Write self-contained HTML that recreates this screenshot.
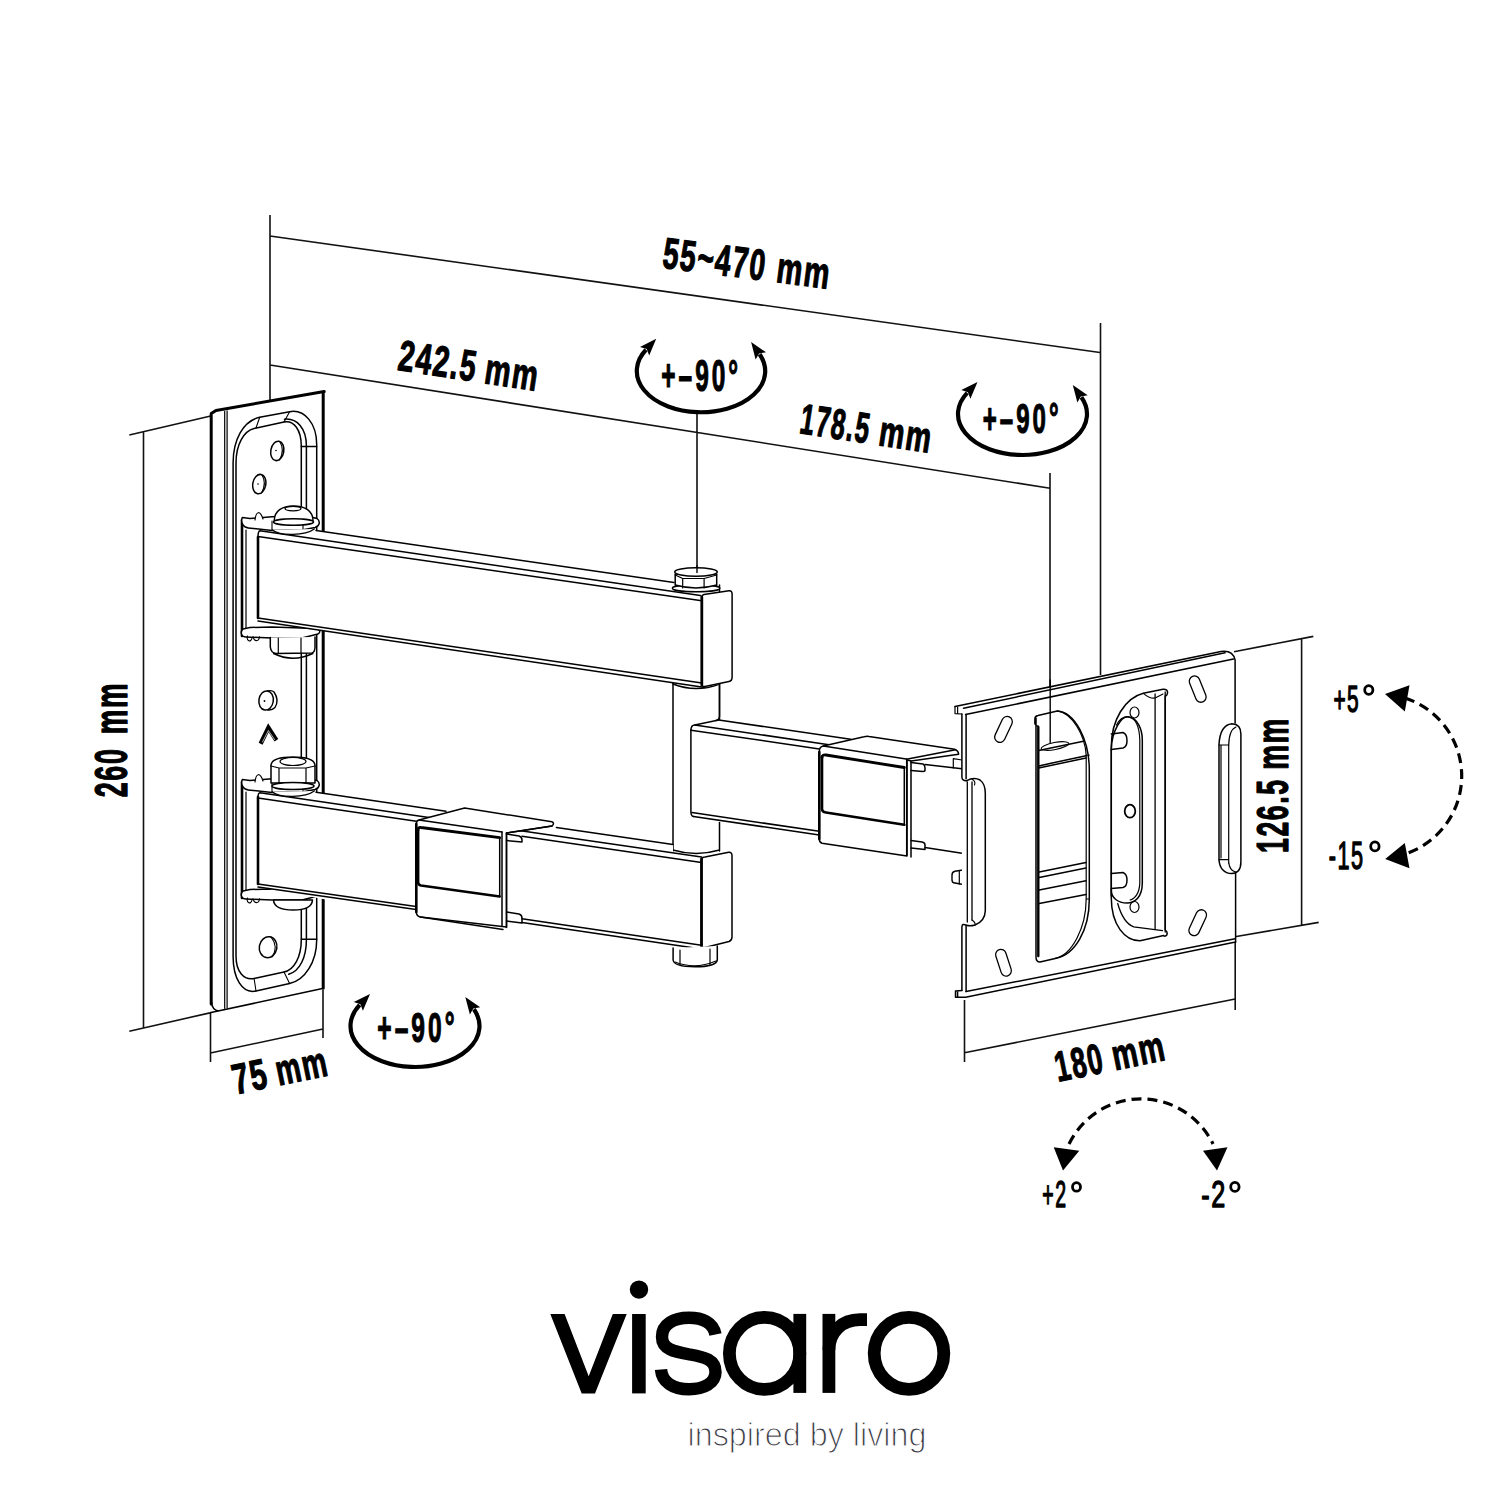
<!DOCTYPE html>
<html><head><meta charset="utf-8"><style>
html,body{margin:0;padding:0;background:#fff;}
svg{display:block;}
text{font-family:"Liberation Sans",sans-serif;}
</style></head><body>
<svg width="1500" height="1500" viewBox="0 0 1500 1500">
<rect width="1500" height="1500" fill="#fff"/>
<path d="M270,215 V402 M270,236 L1100,352.5 M270,365 L1050,488.25 M1100.5,323 V675 M1050,473 V741 M697,413 V572 M143.5,431.7 V1027.3 M129.3,435 L210.7,416 M129.3,1031.3 L211,1012.6 M210.5,1012 V1062 M323,990 V1038 M210.4,1053 L323,1029 M964.5,1000 V1062 M1235.2,939 V1010 M964.5,1052.7 L1235.2,999 M1301.6,638.7 V924.5 M1234,651.7 L1313.3,636.4 M1234.9,936.8 L1318.7,922.4" fill="none" stroke="#111" stroke-width="1.6"/>
<g fill="#000">
<text transform="translate(661.00,268.00) rotate(7.336) scale(0.6458,1) translate(0.60,-0.60)" font-size="43.57" font-weight="bold" stroke="#000" stroke-width="1.2" stroke-linejoin="round"  letter-spacing="2.478">55~470</text>
<text transform="translate(774.73,282.64) rotate(7.336) scale(0.6611,1) translate(0.60,-0.60)" font-size="43.57" font-weight="bold" stroke="#000" stroke-width="1.2" stroke-linejoin="round"  letter-spacing="2.420">mm</text>
<text transform="translate(396.20,370.40) rotate(8.543) scale(0.6607,1) translate(0.60,-0.60)" font-size="43.29" font-weight="bold" stroke="#000" stroke-width="1.2" stroke-linejoin="round"  letter-spacing="2.422">242.5</text>
<text transform="translate(482.88,383.42) rotate(8.543) scale(0.6656,1) translate(0.60,-0.60)" font-size="43.29" font-weight="bold" stroke="#000" stroke-width="1.2" stroke-linejoin="round"  letter-spacing="2.404">mm</text>
<text transform="translate(798.00,433.50) rotate(8.661) scale(0.5894,1) translate(0.60,-0.60)" font-size="42.86" font-weight="bold" stroke="#000" stroke-width="1.2" stroke-linejoin="round"  letter-spacing="2.715">178.5</text>
<text transform="translate(877.04,445.54) rotate(8.661) scale(0.6609,1) translate(0.60,-0.60)" font-size="42.86" font-weight="bold" stroke="#000" stroke-width="1.2" stroke-linejoin="round"  letter-spacing="2.421">mm</text>
<text transform="translate(235.20,1095.10) rotate(-11.671) scale(0.6909,1) translate(0.60,-0.60)" font-size="42.57" font-weight="bold" stroke="#000" stroke-width="1.2" stroke-linejoin="round"  letter-spacing="2.316">75</text>
<text transform="translate(278.53,1086.15) rotate(-11.671) scale(0.6560,1) translate(0.60,-0.60)" font-size="42.57" font-weight="bold" stroke="#000" stroke-width="1.2" stroke-linejoin="round"  letter-spacing="2.439">mm</text>
<text transform="translate(1057.80,1082.40) rotate(-11.451) scale(0.6274,1) translate(0.60,-0.60)" font-size="42.57" font-weight="bold" stroke="#000" stroke-width="1.2" stroke-linejoin="round"  letter-spacing="2.550">180</text>
<text transform="translate(1114.75,1070.86) rotate(-11.451) scale(0.6700,1) translate(0.60,-0.60)" font-size="42.57" font-weight="bold" stroke="#000" stroke-width="1.2" stroke-linejoin="round"  letter-spacing="2.388">mm</text>
<text transform="translate(128.00,797.60) rotate(-90.000) scale(0.5914,1) translate(0.60,-0.60)" font-size="45.57" font-weight="bold" stroke="#000" stroke-width="1.2" stroke-linejoin="round"  letter-spacing="2.705">260</text>
<text transform="translate(128.00,734.68) rotate(-90.000) scale(0.6071,1) translate(0.60,-0.60)" font-size="45.57" font-weight="bold" stroke="#000" stroke-width="1.2" stroke-linejoin="round"  letter-spacing="2.636">mm</text>
<text transform="translate(1288.10,853.30) rotate(-90.000) scale(0.6105,1) translate(0.60,-0.60)" font-size="43.57" font-weight="bold" stroke="#000" stroke-width="1.2" stroke-linejoin="round"  letter-spacing="2.621">126.5</text>
<text transform="translate(1288.10,770.23) rotate(-90.000) scale(0.6419,1) translate(0.60,-0.60)" font-size="43.57" font-weight="bold" stroke="#000" stroke-width="1.2" stroke-linejoin="round"  letter-spacing="2.493">mm</text>
</g>
<path d="M646.0,349.8 A64.2,41.2 0 1 0 759.6,354.2" fill="none" stroke="#000" stroke-width="4.2"/>
<path d="M656.2,338.8 L649.2,355.5 L646.7,349.1 L640.0,346.9 Z" fill="#000"/>
<path d="M751.1,341.9 L766.0,352.3 L759.1,353.4 L755.6,359.5 Z" fill="#000"/>
<text transform="translate(661.00,391.20) rotate(0.000) scale(0.5600,1) translate(0.60,-0.60)" font-size="43.57" font-weight="bold" stroke="#000" stroke-width="1.2" stroke-linejoin="round"  letter-spacing="5.357">+–90°</text>
<path d="M967.2,392.9 A64.5,41 0 1 0 1081.4,397.3" fill="none" stroke="#000" stroke-width="4.2"/>
<path d="M977.5,382.0 L970.4,398.7 L967.9,392.2 L961.3,390.0 Z" fill="#000"/>
<path d="M1072.8,385.0 L1087.7,395.3 L1080.8,396.5 L1077.4,402.6 Z" fill="#000"/>
<text transform="translate(982.50,434.00) rotate(0.000) scale(0.5550,1) translate(0.60,-0.60)" font-size="43.29" font-weight="bold" stroke="#000" stroke-width="1.2" stroke-linejoin="round"  letter-spacing="5.406">+–90°</text>
<path d="M359.7,1004.9 A64.5,41 0 1 0 473.9,1009.3" fill="none" stroke="#000" stroke-width="4.2"/>
<path d="M370.0,994.0 L362.9,1010.7 L360.4,1004.2 L353.8,1002.0 Z" fill="#000"/>
<path d="M465.3,997.0 L480.2,1007.3 L473.3,1008.5 L469.9,1014.6 Z" fill="#000"/>
<text transform="translate(377.00,1043.00) rotate(0.000) scale(0.5681,1) translate(0.60,-0.60)" font-size="43.29" font-weight="bold" stroke="#000" stroke-width="1.2" stroke-linejoin="round"  letter-spacing="5.281">+–90°</text>
<g fill="none" stroke="#000" stroke-width="3.2" stroke-dasharray="10,6">
<path d="M1405,698 A82,82 0 0 1 1405,854"/>
<path d="M1069,1144 A80,80 0 0 1 1213,1144"/>
</g>
<g fill="#000">
<path d="M1385,694 L1409.5,685.3 L1404.8,711.5 Z"/>
<path d="M1385.2,859 L1404.8,843 L1409.5,868.3 Z"/>
<path d="M1063,1170.5 L1053.7,1147.2 L1079.3,1150.7 Z"/>
<path d="M1217,1170.5 L1203,1150.7 L1227.5,1147.2 Z"/>
<text transform="translate(1333.00,712.40) rotate(0.000) scale(0.5713,1) translate(0.70,-0.70)" font-size="36.57" font-weight="normal" stroke="#000" stroke-width="1.4" stroke-linejoin="round"  letter-spacing="2.625">+5</text>
<text transform="translate(1328.30,869.20) rotate(0.000) scale(0.5702,1) translate(0.70,-0.70)" font-size="38.00" font-weight="normal" stroke="#000" stroke-width="1.4" stroke-linejoin="round"  letter-spacing="2.630">-15</text>
<text transform="translate(1042.00,1207.80) rotate(0.000) scale(0.5330,1) translate(0.70,-0.70)" font-size="36.57" font-weight="normal" stroke="#000" stroke-width="1.4" stroke-linejoin="round"  letter-spacing="2.814">+2</text>
<text transform="translate(1200.80,1207.80) rotate(0.000) scale(0.6888,1) translate(0.70,-0.70)" font-size="36.57" font-weight="normal" stroke="#000" stroke-width="1.4" stroke-linejoin="round"  letter-spacing="2.178">-2</text>
<g fill="none" stroke="#000" stroke-width="2.8">
<ellipse cx="1368.8" cy="690" rx="4.1" ry="4.4"/>
<ellipse cx="1374.9" cy="846.4" rx="4.2" ry="4.5"/>
<ellipse cx="1076.5" cy="1186.9" rx="4.0" ry="4.3"/>
<ellipse cx="1234.9" cy="1186.9" rx="4.2" ry="4.5"/>
</g>
</g>
<g fill="#000">
<path d="M550.3,1314 L564.6,1314 L588.7,1376.3 L612.8,1314 L626.7,1314 L595,1393.4 L581.7,1393.4 Z"/>
<rect x="632.1" y="1314" width="13.6" height="79.4"/>
<circle cx="639" cy="1289.6" r="9.2"/>
<rect x="793.4" y="1313.9" width="12.8" height="79"/>
<rect x="822.5" y="1313.9" width="12.8" height="79"/>
</g>
<g fill="none" stroke="#000" stroke-width="12.8">
<ellipse cx="764.6" cy="1353.4" rx="35.2" ry="36"/>
<ellipse cx="909" cy="1353.3" rx="34.8" ry="36"/>
<path d="M828.9,1350 C828.9,1332 842,1319.7 860,1319.7 L867,1319.7"/>
<path d="M715.5,1334.5 C713,1322 702,1317.8 689,1317.8 C674,1317.8 662,1324 662,1337 C662,1350 676,1352 690,1354.5 C705,1357 715.5,1360 715.5,1372 C715.5,1383 704,1389.3 689,1389.3 C673,1389.3 662,1382 661,1369.4" stroke-width="12.4"/>
</g>
<text x="687.5" y="1446.3" font-size="33" fill="#3a3a44" stroke="#fff" stroke-width="1.1" textLength="239" lengthAdjust="spacingAndGlyphs">inspired by living</text>

<g fill="none" stroke="#000" stroke-width="1.5" stroke-linejoin="round" stroke-linecap="round">
<!-- ===== WALL PLATE ===== -->
<path d="M211.2,413.6 L324,391.7 L324,988.5 L211,1012.6 Z" fill="#fff" stroke="none"/>
<path d="M211.2,1004 V413.6 L216,410.5 L324.2,391.5 M323.2,391.7 V988.3" stroke-width="3"/>
<path d="M211.5,1002 Q212,1010 218.7,1010.9 M211,1012.6 L322.5,988.5"/>
<path d="M224.7,411.3 V1008.3 M227.1,410.8 V1007.8" stroke-width="1.2"/>
<!-- recess outer -->
<path d="M233.1,956.5 V463 C233.1,440 243,421 259.7,417.3 L289.6,411.7 C305,409 316.7,424 316.7,444.4 V939.7 C316.7,962 305,980 289.6,983.6 L256,991 C242,994 233.1,978 233.1,956.5 Z"/>
<!-- recess inner -->
<path d="M236,956 V463 C236,444 244,431 254.1,428.5 L284,422 C294,420 301.3,430 301.3,446.3 V939.7 C301.3,957 294,970 284,972 L254.1,978.5 C244,980.5 236,972 236,956 Z"/>
<path d="M284.5,419.2 C297,418 306.4,428 306.4,446 V939.7 C306.4,957 300,971 288.7,974.3"/>
<path d="M301.3,446.5 H316.7 M301.3,939.3 H316.7"/>
<path d="M259.7,417.3 L256,428 M289.6,411.7 L284,422 M256,991 L254.1,978.5 M289.6,983.6 L284,972" stroke-width="1.1"/>
<!-- holes -->
<ellipse cx="277.3" cy="450.9" rx="6.5" ry="9.8" transform="rotate(10 277.3 450.9)"/>
<path d="M280,442 Q285,450 279.5,460" stroke-width="1.1"/>
<ellipse cx="259.3" cy="484.1" rx="6.5" ry="9.8" transform="rotate(10 259.3 484.1)"/>
<path d="M262,475 Q267,483 261.5,493" stroke-width="1.1"/>
<circle cx="276" cy="450.5" r="0.8" fill="#000" stroke="none"/>
<circle cx="258" cy="484" r="0.8" fill="#000" stroke="none"/>
<ellipse cx="266.1" cy="700.5" rx="7.2" ry="9.6" transform="rotate(8 266.1 700.5)"/>
<path d="M267.5,691 Q272,690 274,692 Q279.5,700 275,707.5 Q272,710.5 268,710" stroke-width="1.4"/>
<circle cx="264.5" cy="701" r="0.9" fill="#000" stroke="none"/>
<ellipse cx="268.1" cy="947.2" rx="8.8" ry="10.5" transform="rotate(10 268.1 947.2)"/>
<path d="M271,937 Q279,947 272,957" stroke-width="1.1"/>
<path d="M260.6,743.8 L268.4,727.8 L276.4,740.2" stroke-width="4.4" stroke-linejoin="miter" stroke-linecap="butt"/>
<path d="M262.5,742 L268.4,730.5 L274.5,739.5" stroke="#fff" stroke-width="0.7" stroke-linejoin="miter"/>
</g>
<g fill="none" stroke="#000" stroke-width="1.5" stroke-linejoin="round" stroke-linecap="round">
<!-- ===== PIVOT POST ===== -->
<path d="M673,585 H719.5 V851 Q696,858 673,851 Z" fill="#fff" stroke="none"/>
<path d="M673,585 V851 M719.5,585 V851 M673,850 Q696,857 719.5,850"/>
<path d="M673,684 Q696,693 719.5,684"/>

<!-- ===== UPPER BRACKET (back parts) ===== -->
<path d="M242,520 V636" stroke-width="2.6"/>
<path d="M246,530 V628" stroke-width="1.2"/>
<!-- bottom flange + nut -->
<path d="M243,629 C240,632 241,637 246,637 L272,638 L302,638 L318,634 C321,632 320,629 316,628.5 L272,627 L250,627.5 Z" fill="#fff"/>
<path d="M247.5,636 C246,641 251,643 252,638 M253,636.5 C254,642 259,642 259.5,636.8" stroke-width="1.1"/>
<path d="M270.3,637.5 V647 Q271,653 276,653.5 L312,653 Q315,652 315,647 V637" fill="#fff"/>
<path d="M278.3,638 V653 M301,638 V653" stroke-width="1.2"/>
<path d="M273.7,653.5 Q293,663 312.7,653.5" stroke-width="1.6"/>

<!-- ===== LOWER BRACKET (back parts) ===== -->
<path d="M242,782 V898" stroke-width="2.6"/>
<path d="M246,792 V890" stroke-width="1.2"/>
<path d="M243,891 C240,894 241,899 246,899 L272,900 L302,900 L318,896 C321,894 320,891 316,890.5 L272,889 L250,889.5 Z" fill="#fff"/>
<path d="M247.5,898 C246,903 251,905 252,900 M253,898.5 C254,904 259,904 259.5,898.8" stroke-width="1.1"/>
<path d="M273.5,900 C274,908 283,910 293.3,910 C304,910 312,908 312.5,900 Z" fill="#fff"/>

<!-- ===== MIDDLE ARM ===== -->
<path d="M690.9,729 Q691,725.2 694.7,725 L718.7,720 L850.7,739.3 L868,736 L953.3,750 L962,752 L967,856 L907,856 L822,843.3 L693.5,816.5 Q690.9,816 690.9,812 Z" fill="#fff" stroke="none"/>
<path d="M690.9,730 V812 Q691,816 693.5,816.5"/>
<path d="M690.9,730.2 Q691,725.2 694.7,725 L718.7,720"/>
<path d="M718.7,720 L850.7,739.3 M694.7,725 L829,744.7 M690.9,730.2 L819.3,748.9 M692,812.6 L819.3,831.3 M693.5,816.5 L819.3,835"/>
<path d="M719.5,684 V716 Q719.5,720 716,720.5" />
<!-- sleeve -->
<path d="M819.3,752 Q819.3,746.5 823.3,746 L864,736.8 Q867,736 869,736.5 L954.6,749.2 Q958.5,750.5 958.6,754.3 L911.3,760.9 L907,760 V856 L822,843.3 Q819.3,842.5 819.3,839 Z" fill="#fff"/>
<path d="M819.3,752 V839" stroke-width="2.6"/>
<path d="M823.3,746 L904.5,758.8 Q907.7,759.3 909,758.8 L955.5,749.8"/>
<path d="M822,757.5 Q822,754.5 826,755 L904.3,767.5" stroke-width="2.8"/>
<path d="M822,757 V809 Q822,812 826,812.5 L904.3,824.7" stroke-width="2.6"/>
<path d="M904.3,767.5 V824.7"/>
<path d="M906.7,759 V855 M911,761 V857"/>
<path d="M911,762.5 L923,764 Q925,765 925,768 V770 Q925,771.5 923,771.5 L911,770.5"/>
<path d="M911,840.5 L922,842 Q925,842.5 925,845 V849.5 L911,848"/>
<path d="M925,764.5 L962,768.7 M925,847.5 L962,853.3"/>
<path d="M953.3,758.7 L962,760 M953.3,758.7 V768" stroke-width="1.2"/>
<path d="M966,869.5 L955,871.3 Q952,872 952,875 V880 Q952,883 955,883 L966,885" stroke-width="1.4" fill="#fff"/><path d="M959.3,870.5 V884" stroke-width="1.2"/>

<!-- ===== LOWER ARM ===== -->
<path d="M258,797 Q258,793 260,792.8 L316,792 L446,811.2 L464.6,808.1 L551.9,821.7 L556.4,827 L673,844.4 L673,853.5 L701.5,857 L732,852.5 V940 L703,949.2 L522,922.6 L506.5,927 L503,929.4 L420.4,917 L258,887 Z" fill="#fff" stroke="none"/>
<path d="M258,797 V884" stroke-width="2.6"/>
<path d="M258,797.5 Q258,793 260,792.8 L430.6,817.8 M316,792.3 L446,811.2 M258,798 L416.3,821.2 M258,884 L416,906.5 M258,887 L416,909.5"/>
<!-- sleeve -->
<path d="M416.3,824 Q416.3,820.5 419,820 L464.6,808.1 L551.9,821.7 Q555,823 552,826 L506.5,833 L506.5,927 L420.4,917 Q416.3,916 416.3,912 Z" fill="#fff"/>
<path d="M416.3,824 V912" stroke-width="2.6"/>
<path d="M419,820 L502,832 M506.5,833 L552,826"/>
<path d="M418.1,830 Q418.1,827 421,827.5 L499.7,837.6" stroke-width="2.8"/>
<path d="M418.1,830 V882 Q418.1,885 421,885.5 L499.7,896.5" stroke-width="2.6"/>
<path d="M499.7,837.6 V896.5"/>
<path d="M502,832 V926 M506.5,833 V927.5 M420.4,917 L503,929.4"/>
<path d="M506.5,834 L519,836 Q522,837 522,840 V842 L506.5,840.5"/>
<path d="M506.5,912 L519,914 Q522,915 522,918 V923 L506.5,921"/>
<path d="M520.7,830.8 L701.5,857 M522,836.3 L701.5,862.6 M556.4,827.4 L673,844.4 M522,918.8 L701.5,945.2 M522,922.6 L703,949.2"/>
<!-- end cap lower -->
<path d="M701.5,860 Q701.5,857 704.9,856.9 L728.7,852.3 Q732,852 732,855.5 V937 Q732,940.5 729,941.5 L705,947.5 Q701.5,948 701.5,945 Z" fill="#fff"/>
<path d="M701.5,859 V946" stroke-width="2.8"/>
<!-- nut under lower end cap -->
<path d="M673.1,948 V960 Q674,966.8 695,966.8 Q716,966.8 717.3,960 V946" fill="#fff"/>
<path d="M680,950 V965 M710,949 V965" stroke-width="1.2"/>
<path d="M675,962 Q695,970 716,961" stroke-width="1.2"/>

<!-- ===== UPPER ARM ===== -->
<path d="M258,537 Q258,531 260,530.7 L316,530 L674,582.5 L701.8,596 L703.2,594.5 L729,590.8 Q732.1,590.5 732.1,594 V677 Q732.1,681 729,681.5 L705,687.5 L258,621 Z" fill="#fff" stroke="none"/>
<path d="M258,537 V618" stroke-width="2.6"/>
<path d="M258,537 Q258,531 260,530.7 L700.4,595.6 M316,530.5 L674,582.5 M258,536.5 L701.8,600.7 M258,618 L701.8,683 M258,621 L705,687.5"/>
<path d="M701.8,598 Q701.8,594.8 704,594.5 L729,590.8 Q732.1,590.5 732.1,594 V677 Q732.1,681 729,681.5 L705,686.5 Q701.8,687 701.8,684 Z" fill="#fff"/>
<path d="M701.8,597 V685" stroke-width="2.8"/>
<!-- top bolt (pivot) -->
<ellipse cx="696.1" cy="588.2" rx="23.7" ry="3.6" fill="#fff"/>
<path d="M675.2,574 V585 Q696,591 716.7,585 V574 Z" fill="#fff"/>
<ellipse cx="696" cy="572" rx="21.3" ry="4.2" fill="#fff"/>
<path d="M675.2,575 L682.7,578.5 L704.1,578.5 L716.7,575 M682.7,578.5 V588 M704.1,578.5 V588" stroke-width="1.2"/>
<path d="M697,566 V572.5" stroke-width="1.4"/>

<!-- ===== UPPER BRACKET (front parts) ===== -->
<path d="M242.3,517.5 C240.5,522 243,527.5 248.3,528 L272,530.5 L302,530 L315,527.5 C320,526 320.5,521 317,518.5 C310,516 290,515.5 272,516.8 L250,518.5 Z" fill="#fff"/>
<path d="M272,521 V530.5 M303,520.5 V530" stroke-width="1.1"/>
<path d="M255,520 C256,511 260,510 263,519" fill="#fff" stroke-width="1.2"/>
<path d="M272.3,530 C280,536 305,536 314.3,529" fill="#fff" stroke-width="1.3"/>
<path d="M274.3,520.8 C274.3,511 282,506 293.5,506 C305,506 313,511 313,520.8 Z" fill="#fff"/>
<ellipse cx="293.5" cy="522" rx="20" ry="3.2" fill="#fff"/>
<ellipse cx="293" cy="508.6" rx="8" ry="2.2" stroke-width="1.2"/>

<!-- ===== LOWER BRACKET (front parts) ===== -->
<path d="M242.3,779.5 C240.5,784 243,789.5 248.3,790 L272,792.5 L302,792 L315,789.5 C320,788 320.5,783 317,780.5 C310,778 290,777.5 272,778.8 L250,780.5 Z" fill="#fff"/>
<path d="M272,783 V792.5 M303,782.5 V792" stroke-width="1.1"/>
<path d="M255,782 C256,773 260,772 263,781" fill="#fff" stroke-width="1.2"/>
<path d="M272.3,792 C280,798 305,798 314.3,791" fill="#fff" stroke-width="1.3"/>
<path d="M271,783 V765 Q272,757 293,757 Q314,757 315,765 V783 Z" fill="#fff"/>
<ellipse cx="293" cy="761.5" rx="13" ry="4" stroke-width="1.2"/>
<path d="M279,768 V784 M306,768 V784 M271,766 L279,768 L306,768 L315,766" stroke-width="1.2"/>
<ellipse cx="293" cy="786" rx="21" ry="3.5" fill="#fff"/>
</g>
<g fill="none" stroke="#000" stroke-width="1.5" stroke-linejoin="round" stroke-linecap="round">
<!-- ===== TV PLATE ===== -->
<path d="M955,706.5 L1221,651.5 Q1233,650 1235.1,660 V723 L1240.9,728.5 V868.3 L1235.6,873 V941.9 L965.6,997.3 L955.5,997.3 V991 L961.9,990.5 V714 L955,713.6 Z" fill="#fff" stroke="none"/>
<!-- top lip -->
<path d="M955,706.5 L1221,651.5 Q1233,650 1235.1,660 V723"/>
<path d="M963.5,708.2 L1225,652.8 M965.6,714.6 L1233.5,659"/>
<path d="M955,706.5 V713.6 L961.9,714 M957.6,707 V713.5" stroke-width="1.2"/>
<!-- left edge -->
<path d="M961.9,714 V777 Q962,781 966.7,780.7 M966.1,714.5 V778.7"/>
<path d="M961.9,927 Q962,923 966.5,925.3 M961.9,927 V990.5 M966.1,926 V991.5"/>
<!-- left handle -->
<path d="M966.7,780.7 Q974,776.5 980,780 Q985.3,784 985.3,793.3 V910.7 Q985,921 975,925 Q970,926.5 966.5,925.3"/>
<path d="M967.3,782 V922 M972,782 V920" stroke-width="1.3"/>
<path d="M972,779.2 Q976,781 974.5,785 M972,920 Q976,923 975,925" stroke-width="1.1"/>
<!-- bottom lip -->
<path d="M955.5,991 V997.3 L965.6,997.3 L1235.6,941.9 M966.1,991.5 L1235.1,938.7 M955.5,991 L961.9,990.5 M957.6,991 V997" />
<!-- right edge + handle -->
<path d="M1235.6,873 V941.9"/>
<path d="M1219,744.5 Q1220,725 1231.9,723.7 Q1240.9,724 1240.9,734 V862 Q1240.9,873 1231.9,873.6 Q1220,873 1219,859.7 Z" fill="#fff"/>
<path d="M1221,745 V858 M1228.7,745 V862.9 M1219,745 H1228.7 M1219,859.7 H1228.7" stroke-width="1.2"/>
<path d="M1228.7,745 Q1229,730 1236,727 M1228.7,862.9 Q1230,871 1236,872" stroke-width="1.2"/>
<!-- D opening -->
<path d="M1036,718 V957 Q1036,962 1040,962 L1055.2,958.4 C1075,955 1089.3,930 1089.3,899.2 V770 C1089.3,740 1075,712 1057.3,710.9 L1038,715.5 Q1034.9,716 1034.9,719 V724 Q1036,726 1038,726" fill="#fff"/>
<path d="M1038.3,727 V956" stroke-width="2.4"/>
<path d="M1057.3,710.9 C1072,713 1085,735 1086.2,755.2 V899 C1086,928 1072,955 1055.2,958.4" stroke-width="1.2"/>
<path d="M1086.2,755.2 H1089.3 M1086.2,899 H1089.3" stroke-width="1"/>
<path d="M1038.7,750.4 L1083.5,741.3 M1038.7,765.9 L1086,755.7 M1038.7,768 L1086,758"/>
<path d="M1039.2,872 L1086,862.5 M1039.2,877.5 L1086,868 M1039.2,890.1 L1086,880.8 M1039.2,903.5 L1086,894.6"/>

<!-- right opening -->
<path d="M1111.3,898 V746.7 C1111.3,720 1125,698 1143.3,693.3 L1163,689.3 Q1168,689 1167.5,693 Q1167,696 1165.2,696 V930 Q1168,932 1166.8,935 Q1165,937 1163.6,935.5 L1140.1,940.8 C1125,941 1111.3,925 1111.3,898 Z" fill="#fff"/>
<path d="M1155.1,694 V929 M1165.2,692 V932" stroke-width="1.3"/>
<path d="M1143.3,693.3 Q1150,699 1155.1,698 L1163,694" stroke-width="1.1"/>
<!-- inner bracket -->
<path d="M1111.3,750 C1111.5,730 1122,716 1128,716.8 C1138,718 1142.3,730 1142.3,740 V883 C1142.3,897 1135,903 1127,903 C1118,903 1111.3,898 1111.3,890" fill="#fff"/>
<path d="M1116.5,725 C1120,718 1125,716.5 1129,717 C1137,719 1139.5,730 1139.8,740 V883 C1139.5,893 1135,899 1130,900" stroke-width="1.2"/>
<path d="M1117.7,903.5 C1121,915 1126,924 1133.7,926.9 L1162.5,930.7" stroke-width="1.3"/>
<path d="M1111.3,734 L1123,732.5 Q1127,734 1127,740.5 Q1127,747 1123,748 L1111.3,749.5"/>
<path d="M1111.3,873.6 L1123,872.5 Q1127,874 1127,880 Q1127,886.5 1123,887.5 L1111.3,888.5"/>
<path d="M1111.3,750 V896"/>
<ellipse cx="1130" cy="811.2" rx="5.3" ry="6.5" stroke-width="1.8"/>
<ellipse cx="1134.5" cy="712.5" rx="4.5" ry="5.5" stroke-width="1.2"/>
<ellipse cx="1134.5" cy="907" rx="4.5" ry="5.5" stroke-width="1.2"/>
<!-- slot holes -->
<g stroke-width="1.3">
<rect x="-5.25" y="-13.75" width="10.5" height="27.5" rx="5.25" transform="translate(1003.5,729.4) rotate(25)"/>
<rect x="-5.25" y="-13.75" width="10.5" height="27.5" rx="5.25" transform="translate(1197.7,689.1) rotate(-22)"/>
<rect x="-5.25" y="-13.75" width="10.5" height="27.5" rx="5.25" transform="translate(1003.5,962.7) rotate(-18)"/>
<rect x="-5.25" y="-13.75" width="10.5" height="27.5" rx="5.25" transform="translate(1197.7,922.7) rotate(25)"/>
</g>
<path d="M1050.2,680 V742.4" stroke-width="1.4"/>
<ellipse cx="1055" cy="746" rx="14" ry="3.5" stroke-width="1.1" transform="rotate(-11 1055 746)"/>
</g>

</svg>
</body></html>
